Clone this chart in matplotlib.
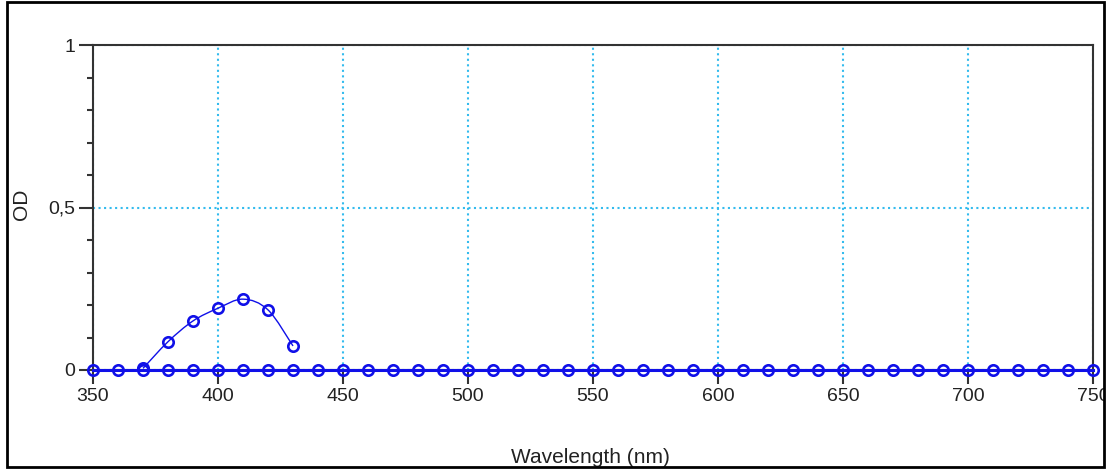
import matplotlib.pyplot as plt
from matplotlib.path import Path
from matplotlib.patches import PathPatch, Rectangle
from matplotlib.ticker import MultipleLocator, FuncFormatter

plt.rcParams['font.family'] = ['Liberation Sans', 'DejaVu Sans']

# данные
wl_base = list(range(350, 751, 10))
od_base = [0.0] * len(wl_base)
wl_peak = [370, 380, 390, 400, 410, 420, 430]
od_peak = [0.005, 0.087, 0.151, 0.19, 0.218, 0.185, 0.074]

blue = '#1010e8'
grid_c = '#33bbee'

fig = plt.figure(figsize=(11.13, 4.74), dpi=100)
ax = fig.add_axes([93 / 1113, 1 - 370 / 474, 1000 / 1113, 325 / 474])

ax.set_xlim(350, 750)
ax.set_ylim(0, 1)

# сплайн через точки пика (Catmull-Rom -> Bezier)
verts = [(wl_peak[0], od_peak[0])]
codes = [Path.MOVETO]
n = len(wl_peak)
for i in range(n - 1):
    p0 = (wl_peak[max(i - 1, 0)], od_peak[max(i - 1, 0)])
    p1 = (wl_peak[i], od_peak[i])
    p2 = (wl_peak[i + 1], od_peak[i + 1])
    p3 = (wl_peak[min(i + 2, n - 1)], od_peak[min(i + 2, n - 1)])
    c1 = (p1[0] + (p2[0] - p0[0]) / 6, p1[1] + (p2[1] - p0[1]) / 6)
    c2 = (p2[0] - (p3[0] - p1[0]) / 6, p2[1] - (p3[1] - p1[1]) / 6)
    verts += [c1, c2, p2]
    codes += [Path.CURVE4] * 3
ax.add_patch(PathPatch(Path(verts, codes), fill=False, edgecolor=blue, lw=1.0, zorder=3))
ax.plot(wl_peak, od_peak, ls='none', marker='o', ms=7.5, mfc='none', mec=blue, mew=1.9, zorder=4)

ax.plot(wl_base, od_base, color=blue, lw=2.2, marker='o', ms=7.5, mfc='none', mec=blue, mew=1.9,
        zorder=5, clip_on=False)

# оси и сетка
ax.xaxis.set_major_locator(MultipleLocator(50))
ax.yaxis.set_major_locator(MultipleLocator(0.5))
ax.yaxis.set_minor_locator(MultipleLocator(0.1))
ax.yaxis.set_major_formatter(FuncFormatter(lambda v, p: ('%g' % v).replace('.', ',')))
ax.tick_params(axis='both', which='major', direction='out', length=10, width=1.5,
               color='#333333', labelsize=14, labelcolor='#222222', pad=3)
ax.tick_params(axis='y', which='minor', direction='out', length=4, width=1.5, color='#333333')
ax.grid(True, which='major', color=grid_c, ls=':', lw=1.5)
for s in ax.spines.values():
    s.set_linewidth(1.5)
    s.set_color('#333333')

ax.set_xlabel('Wavelength (nm)', fontsize=15, color='#222222', va='baseline')
ax.xaxis.set_label_coords(0.497, -0.286)
ax.set_ylabel('OD', fontsize=15, color='#222222')
ax.yaxis.set_label_coords(-0.062, 0.51)

# рамка окна
fig.patches.append(Rectangle((0, 0), 1, 7 / 474, transform=fig.transFigure,
                             facecolor='white', edgecolor='none', zorder=10))
fig.patches.append(Rectangle((1105 / 1113, 0), 8 / 1113, 1, transform=fig.transFigure,
                             facecolor='white', edgecolor='none', zorder=10))
fig.patches.append(Rectangle((7 / 1113, 7 / 474), 1097 / 1113, 465 / 474, transform=fig.transFigure,
                             facecolor='none', edgecolor='black', lw=2, zorder=11))

fig.savefig('out.png', dpi=100)
